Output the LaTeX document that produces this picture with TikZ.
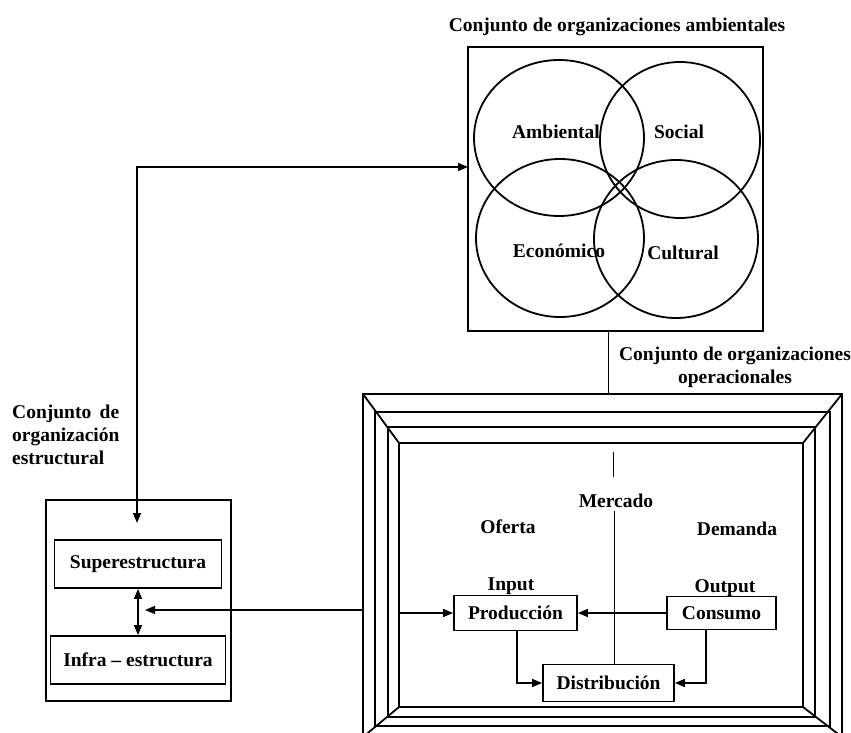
\documentclass[tikz,border=0pt]{standalone}
\usepackage{fontspec}
\setmainfont{Liberation Serif}
\usetikzlibrary{arrows.meta}

\begin{document}
\begin{tikzpicture}[x=1pt, y=-1pt,
  every node/.style={font=\bfseries\fontsize{19.5}{23}\selectfont},
  box/.style={draw, line width=1.8pt, inner sep=0pt},
  arr/.style={-{Triangle[length=10pt,width=8pt]}, line width=1.5pt},
  dblarr/.style={{Triangle[length=10pt,width=8pt]}-{Triangle[length=10pt,width=8pt]}, line width=1.5pt},
  frame/.style={line width=1.8pt}]
\useasboundingbox (0,0) rectangle (851,733);
\clip (0,0) rectangle (851,733);
% conjunto ambiental
\node (tamb) at (617,27) {Conjunto de organizaciones ambientales};
\node [box, minimum width=295pt, minimum height=284pt] (amb) at (615.5,189) {};
\draw [frame] (559,138) ellipse [x radius=85, y radius=78];
\draw [frame] (680,140) ellipse [x radius=80, y radius=78];
\draw [frame] (560,238) ellipse [x radius=84, y radius=79];
\draw [frame] (676,239) ellipse [x radius=82, y radius=79];
\node (ambi) at (556,132) {Ambiental}; \node (soc) at (679,132) {Social};
\node (eco) at (559,251) {Económico}; \node (cult) at (683,253) {Cultural};
% conjunto operacional
\node [align=center] (topc) at (735,367) {Conjunto de organizaciones\\operacionales};
\foreach \l/\t/\r/\b in {363/394/842/737, 375/412/830/726, 388/427/815/717, 399/443/803/707}
  \draw [frame] (\l,\t) rectangle (\r,\b);
\draw [frame] (363,394) -- (399,443); \draw [frame] (842,394) -- (803,443);
\draw [frame] (363,737) -- (399,707); \draw [frame] (842,737) -- (803,707);
\coordinate (optop) at (608,394);
\draw [line width=1pt] (amb.south -| optop) -- (optop);
\node (merc) at (616,501) {Mercado};
\node (ofer) at (508,527) {Oferta}; \node (dem) at (737,529) {Demanda};
\node (inp) at (511,586) {Input}; \node (outp) at (725,588) {Output};
\node [box, minimum width=123pt, minimum height=35pt] (prod) at (515.5,613) {Producción};
\node [box, minimum width=109pt, minimum height=33pt] (cons) at (721.5,613) {Consumo};
\node [box, minimum width=131pt, minimum height=37pt] (dist) at (608.5,683) {Distribución};
\coordinate (mtop) at (613,452);
\draw [line width=0.9pt] (mtop) -- (mtop |- 0,477);
\draw [line width=0.9pt] (merc.south -| 614,0) -- (dist.north -| 614,0);
\draw [arr] (cons.west) -- (prod.east);
\draw [arr] (prod.south -| 517,0) |- (dist.west);
\draw [arr] (cons.south -| 706,0) |- (dist.east);
\coordinate (inl) at (399,613);
\draw [arr] (inl) -- (prod.west);
% conjunto estructural
\node [anchor=west, text width=107pt, align=left, inner sep=0pt] (test) at (12,435)
  {Conjunto\hfill de\\organización\\estructural};
\node [box, minimum width=185pt, minimum height=201pt] (estr) at (138.5,600.5) {};
\node [box, minimum width=167pt, minimum height=48pt] (sup) at (138,564) {Superestructura};
\node [box, minimum width=175pt, minimum height=48pt] (inf) at (138,660) {Infra -- estructura};
\draw [dblarr] (sup.south) -- (inf.north);
\coordinate (ambin) at (468,167); \coordinate (supin) at (137,523);
\draw [dblarr] (supin) |- (ambin);
\coordinate (frl) at (363,610); \coordinate (estin) at (145,610);
\draw [arr] (frl) -- (estin);
\end{tikzpicture}
\end{document}
